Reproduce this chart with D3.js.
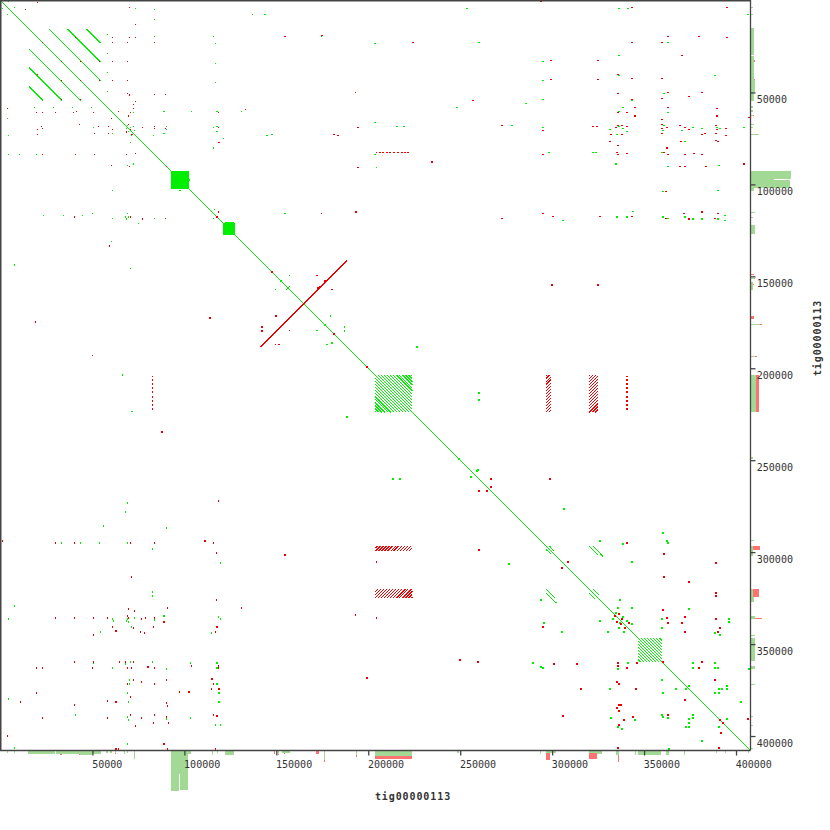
<!DOCTYPE html>
<html><head><meta charset="utf-8">
<script src="https://cdn.jsdelivr.net/npm/d3@7"></script>
<style>body{margin:0;background:#fff}svg{display:block}</style>
</head><body>
<svg id="c" width="830" height="830"></svg>
<script>
// ---------------- DATA (positions in kb along tig00000113) ----------------
const KB = 1000;
const contigName = "tig00000113";
const contigLengthKb = 407.6;
const tickValues = [50000, 100000, 150000, 200000, 250000, 300000, 350000, 400000];
const tickLabels = ["50000", "100000", "150000", "200000", "250000", "300000", "350000", "400000"];

// forward (same strand) alignments: [x1, y1, x2, y2] kb
const fwdLines = [
  [0, 0, 407.6, 407.6],
  [26.3, 15.4, 54.4, 43.5], [36.3, 15.4, 54.4, 33.5], [46.7, 15.4, 54.4, 23.1],
  [15.4, 26.3, 43.5, 54.4], [15.4, 36.3, 33.5, 54.4], [15.4, 46.7, 23.1, 54.4],
  [320.1, 296.7, 325.0, 301.6], [322.3, 296.7, 327.7, 302.2],
  [296.7, 320.1, 301.6, 325.0], [296.7, 322.3, 302.2, 327.7],
  [296.7, 298.4, 299.5, 301.1], [298.4, 296.7, 301.1, 299.5],
  [320.1, 322.3, 323.4, 325.6], [322.3, 320.1, 325.6, 323.4]
];
// reverse-strand alignments: [x1, y1, x2, y2] kb
const revLines = [
  [141.3, 188.6, 188.6, 141.3]
];
// dense collapsed-repeat blocks: [x0, y0, x1, y1] kb
const fwdBlocks = [
  [92.9, 92.9, 102.7, 102.7],
  [121.2, 121.2, 127.7, 127.7],
  [122.0, 120.6, 127.2, 121.3]
];
// tandem-repeat boxes: [x0, x1, y0, y1] kb, with copy offsets (kb)
const fwdHatchBoxes = [[203.8, 223.9, 203.8, 223.9], [346.7, 359.8, 346.7, 359.8]];
const revHatchBoxes = [
  [296.6, 299.5, 203.8, 223.9], [320.1, 324.8, 203.8, 223.9],
  [203.8, 223.9, 296.6, 299.5], [203.8, 223.9, 320.1, 324.8]
];
const repeatOffsets = [-19.8, -18.2, -16.5, -14.9, -13.2, -11.6, -9.9, -8.3, -6.6, -5.0, -3.3, -1.7,
  0, 1.7, 3.3, 5.0, 6.6, 8.3, 9.9, 11.6, 13.2, 14.9, 16.5, 18.2, 19.8];

// short forward hits: [x, y] kb
const fwdDots = [
  [4.3,0.5],[1.1,4.3],[7.6,3.8],[3.8,7.6],[73.4,4.3],[83.7,4.9],[83.7,10.3],[58.2,18.5],[83.7,19.6],[115.8,19.6],
  [116.9,23.4],[58.2,28.8],[58.2,39.1],[58.2,49.5],[116.9,34.2],[116.9,44.6],[18.5,58.2],[28.8,58.2],[39.1,58.2],[49.5,58.2],
  [3.8,64.1],[64.1,64.1],[72.3,60.9],[89.1,60.3],[103.8,60.3],[117.9,60.3],[131,60.3],[50.5,69],[60.9,72.3],[4.3,73.4],
  [83.2,73.4],[90.2,68.5],[90.2,70.1],[89.1,72.3],[115.8,69],[117.9,68.5],[117.9,71.2],[121.2,75],[115.8,80.4],[70.7,77.2],
  [4.3,83.7],[10.3,83.7],[19.6,83.7],[69,89.7],[72.3,89.1],[60.9,103.3],[97.8,103.3],[102.7,97.8],[23.4,116.9],[34.2,116.9],
  [44.6,116.9],[50,115.8],[60.9,118.5],[69,115.8],[67.9,117.9],[68.5,119],[69.6,117.9],[75,121.2],[83.7,118.5],[116.3,113.6],
  [115.8,118.5],[60.3,131],[69,67.9],[70.7,69],[72.3,68.5],[69.6,71.2],[71.2,73.4],[72.8,70.7],[68.5,69.6],
  [157.1,149.5],[149.5,157.1],[156.5,156.5],[155.5,157.1],[157.1,155.5],[179.4,171.7],[187,177.7],[187,179.9],[172.3,179.4],
  [177.7,187],[180.4,186.4],[226.6,188.6],[188.6,226.6],[152.7,152.7],[176.6,176.6],
  [260.3,213.6],[260.3,217.4],[213.6,260.3],[217.4,260.3],[259.2,256],[256,259.2],[249.5,249.5],[326.1,294],[338.6,295.7],
  [343.5,305.4],[294,326.1],[276.6,306.5],[306.5,276.6],[337,326.1],[343.5,330.4],
  [360.3,289.7],[362.5,294],[363.1,295.1],[289.7,360.3],[294,362.5],[295.1,363.1],[335.9,330.4],[374.5,331],[359.8,336.4],
  [359.8,341.3],[396.2,336.4],[396.2,338],[388.6,344],[391.3,345.1],[330.4,343.5],[326.1,337.5],[305.4,343.5],[295.7,338.6],
  [341.3,360.3],[335.9,363.6],[376.6,360.3],[376.6,363.1],[388.6,360.3],[390.2,363.1],[388.6,363.1],[407.1,363.6],[331.5,374.5],
  [359.8,369.6],[360.3,376.6],[367.4,374.5],[372.8,374.5],[374.5,372.8],[390.8,374.5],[392.4,374.5],[388.6,376.6],[390.8,376.6],
  [395.1,372.8],[395.1,374.5],[402.7,381.5],[332.1,390.2],[345.1,391.3],[335.9,395.1],[338,396.2],[359.8,388.6],[360.3,389.7],
  [363.1,390.2],[374.5,390.8],[374.5,393],[376.6,388.6],[376.6,390.2],[372.8,395.1],[374.5,395.1],[395.1,390.8],[390.8,395.1],
  [381.5,402.7],[363.6,407.1],[333.2,336.4],[334.8,333.2],[337,338.6],[338.6,335.3],[340.8,337.5],[336.4,341.3],[343.5,339.1],
  [339.1,343.5],
  [336.4,4.3],[341.3,4.3],[406.5,7.6],[363.1,22.8],[336.4,29.9],[295.1,33.2],[336.4,40.8],[388.6,40.8],[295.1,43.5],[360.9,50.5],
  [295.1,53.8],[285.9,56],[343.5,54.4],[336.4,60.3],[338.6,58.2],[363.1,60.9],[278.3,67.9],[295.1,69],[331.5,70.1],[336.4,68.5],
  [338.6,69.6],[340.8,71.2],[335.3,72.8],[360.3,70.7],[360.9,67.9],[370.7,70.7],[376.6,69],[381.5,69.6],[389.7,69],[391.3,69.6],
  [404.4,69],[372.3,76.6],[298.4,82.6],[322.3,82.6],[323.9,82.6],[359.8,82.6],[334.8,89.1],[363.1,90.2],[390.8,89.7],[360.3,103.8],
  [390.2,103.3],[344,114.7],[306,119.6],[335.3,117.9],[340.8,117.9],[360.3,117.9],[363.1,118.5],[372.3,117.9],[376.6,119],
  [381.5,119],[390.2,119],[394,116.9],[394,119.6],
  [137,7.6],[253.8,4.3],[174.5,19.6],[203.8,23.4],[260.3,22.8],[248.4,58.2],[215.8,68.5],[219.6,68.5],[145.1,73.4],[147.8,72.8],
  [203.8,83.7],[204.4,90.8],[154.9,115.8],
  [69,273.4],[67.9,278.3],[56,285.9],[90.2,287],[33.2,295.1],[43.5,295.1],[53.8,295.1],[69,295.1],[82.6,298.4],[119.6,306],
  [82.6,321.8],[82.6,323.9],[7.6,329.4],[4.3,336.4],[60.9,336.4],[61.4,337.5],[69,336.4],[69.6,338],[72.8,335.9],[68.5,337.5],
  [83.7,337],[89.1,334.8],[118.5,335.3],[119.6,336.4],[54.4,343.5],[71.2,340.8],[114.7,344],[50.5,360.3],[70.7,359.8],[67.9,360.9],
  [60.9,363.1],[82.6,359.8],[90.2,363.6],[103.3,360.3],[117.9,360.3],[117.9,363.1],[70.1,369.6],[70.1,371.8],[69,376.6],[69.6,381.5],
  [117.9,371.8],[119,376.6],[119,381.5],[4.3,379.9],[40.8,388.6],[69,389.7],[69.6,391.3],[90.2,390.8],[103.3,390.2],[116.9,394],
  [119.6,394],[7.6,406.5],[69,404.4],
  [7.6,144],[70.7,145.7],[66.3,203.8],[71.5,223.5],[259.8,255.4],[144,7.6],[203.8,66.3]
];
// short reverse hits: [x, y] kb
const revDots = [
  [70.1,3.8],[13.6,4.9],[20.1,1.1],[73.4,13],[70.1,20.1],[73.4,20.1],[69,22.8],[60.9,20.1],[60.9,22.8],[83.7,22.8],
  [22.8,22.8],[60.9,33.2],[69,33.2],[33.2,33.2],[43.5,33.2],[53.8,33.2],[60.9,43.5],[69,43.5],[33.2,43.5],[43.5,43.5],
  [53.8,43.5],[69,50.5],[70.1,51.3],[83.7,51.1],[89.7,51.1],[73.4,54.9],[72.3,56.5],[72.3,58.7],[20.1,40.2],[40.8,20.1],
  [33.2,53.8],[43.5,53.8],[41.3,60.3],[3.8,58.7],[19.6,60.9],[22.8,60.9],[29.9,60.9],[39.7,60.9],[50.5,60.9],[64.1,60.3],
  [70.7,60.9],[69.6,63],[60.3,64.1],[22.3,68.5],[22.8,69.6],[20.1,70.1],[20.1,72.8],[42.9,67.4],[53.3,68.5],[58.7,68.5],
  [60.9,70.1],[58.7,72.3],[51.1,72.3],[77.2,69],[83.7,68.5],[83.7,69.6],[89.7,69.6],[118.5,60.9],[133.2,59.2],[119,77.2],
  [118.5,69],[22.8,83.7],[40.8,83.7],[51.1,83.7],[68.5,83.7],[73.4,83.2],[60.3,89.7],[70.1,90.2],[90.2,90.2],[40.2,117.9],
  [77.2,119],[89.7,118.5],[70.7,117.9],[118.5,115.2],[117.9,117.9],[59.2,133.7],[69.6,67.4],[70.7,70.1],[71.7,72.8],[68.5,71.7],
  [147.8,147.8],[172.3,149.5],[172.8,156.5],[173.4,155.5],[180.4,157.1],[176.6,152.7],[150,171.7],[153.3,176.6],[142.4,177.7],
  [142.4,179.9],[157.1,179.4],[149.5,187],[151.6,187],[181.5,181.5],[199.5,199.5],
  [298.9,260.3],[266.9,260.3],[260.3,266.9],[264.7,266.9],[266.9,264.7],[260.3,298.9],[204.4,305.4],[204.4,335.9],[308.7,305.4],
  [305.4,308.7],[340.8,295.1],[295.1,340.8],
  [360.9,301.1],[389.1,306],[360.9,313.6],[374.5,316.3],[389.1,322.3],[389.1,323.9],[360.3,331.5],[362.5,335.9],[372.3,335.3],
  [370.7,338.6],[363.1,338.6],[372.3,343.5],[389.1,336.4],[391.3,341.3],[390.2,343.5],[301.1,360.9],[313.6,360.9],[335.9,360.3],
  [335.9,362],[340.8,363.1],[346.2,360.3],[360.3,359.8],[381.5,359.8],[379.9,363.1],[335.3,370.7],[336.4,371.8],[315.8,374.5],
  [345.7,374.5],[372.3,380.5],[388.6,369.6],[336.4,383.2],[337.5,383.2],[335.3,384.8],[336.4,386.4],[306,389.1],[339.1,391.3],
  [344,389.7],[336.4,394],[363.1,388.6],[391.3,391.3],[393,393],[406.5,390.8],[391.8,398.4],[390.8,406.5],[335.9,406.5],
  [334.3,334.8],[336.4,333.7],[338,336.4],[337.5,339.1],[341.9,338.6],[335.3,338],[339.6,341.3],
  [294,0.5],[343.5,3.8],[395.1,3.8],[363.1,19.6],[379.9,19.6],[395.1,20.1],[343.5,22.8],[359.8,22.8],[370.7,29.9],[299.5,32.6],
  [325,32.6],[335.9,40.2],[343.5,42.4],[299.5,42.9],[325,42.9],[359.8,42.4],[335.9,50.5],[363.1,50],[381.5,50],[374.5,52.2],
  [359.8,53.3],[343.5,53.8],[345.1,58.2],[363.1,58.2],[389.7,58.7],[335.9,60.9],[340.8,60.9],[345.1,63],[389.7,63],[359.8,64.7],
  [407.1,63.6],[272.8,67.9],[322.3,68.5],[324.5,68.5],[335.9,67.9],[338,67.9],[340.8,68.5],[334.8,69],[359.8,67.4],[359.8,69.6],
  [362.5,69],[369.6,67.9],[372.3,69],[374.5,70.1],[389.1,67.9],[389.7,70.1],[394.6,69.6],[295.1,70.7],[332.1,72.8],[338,72.8],
  [359.8,72.3],[381.5,72.8],[383.2,72.3],[389.1,72.3],[394.6,73.4],[370.1,76.6],[389.1,76.1],[390.2,76.6],[331.5,76.6],[335.9,78.8],
  [295.1,83.7],[335.3,82.6],[335.9,83.7],[340.8,83.2],[360.9,82.6],[363.1,83.7],[362.5,80.4],[372.3,83.7],[377.2,83.2],[381.5,83.7],
  [369.6,90.2],[372.3,90.2],[383.7,90.2],[404.4,89.1],[362,103.8],[295.1,115.8],[300.5,117.4],[326.1,117.4],[272.8,118.5],
  [343.5,117.4],[362,118.5],[371.8,115.8],[374.5,119],[381.5,115.2],[388.6,118.5],[390.2,115.8],
  [154.9,19.6],[224.5,22.8],[257.1,54.4],[194.6,69],[181.5,72.8],[183.7,73.4],[194.6,90.8],[174.5,115.8],[193.5,115.2],
  [204.4,82.6],[206.5,82.6],[208.2,82.6],[210.3,82.6],[212,82.6],[214.1,82.6],[216.3,82.6],[218.5,82.6],[220.1,82.6],[221.7,82.6],
  [340.8,204.4],[340.8,206.5],[340.8,208.7],[340.8,210.9],[340.8,213],[340.8,215.8],[340.8,217.9],[340.8,220.1],[340.8,222.3],
  [82.6,204.4],[82.6,206.5],[82.6,208.7],[82.6,210.9],[82.6,213],[82.6,215.8],[82.6,217.9],[82.6,220.1],[82.6,222.3],
  [118.5,272.3],[1.1,294],[29.9,295.1],[40.2,295.1],[70.7,295.1],[83.7,295.1],[111.4,294],[115.8,295.1],[117.4,300.5],[71.2,313.6],
  [117.4,326.1],[131,330.4],[69.6,331],[72.8,332.1],[90.8,330.4],[29.9,335.9],[40.2,335.9],[50.5,335.9],[58.2,335.9],[69,334.8],
  [69.6,335.9],[76.6,336.4],[78.8,335.9],[83.7,335.9],[89.1,338],[60.9,340.8],[63,343],[72.3,341.3],[76.1,343.5],[78.3,344],
  [83.2,340.8],[50.5,345.1],[117.9,340.8],[116.9,343.5],[40.2,359.8],[50.5,359.8],[50,363.1],[64.7,359.8],[67.9,359.8],[72.3,359.8],
  [69,363.1],[71.2,363.1],[80.4,362.5],[83.7,363.1],[19.6,363.1],[22.8,363.1],[103.8,362],[118.5,362],[118.5,363.1],[90.2,369.6],
  [72.3,369.6],[76.6,370.7],[69,371.8],[83.7,371.8],[115.2,369],[115.8,371.8],[114.7,374.5],[119,374.5],[97.3,376.1],[102.7,376.1],
  [19.6,376.6],[70.7,378.8],[58.2,381],[63,381.5],[10.9,381.5],[40.2,383.2],[90.2,382.1],[90.8,383.7],[22.8,390.2],[58.2,390.2],
  [70.7,388.6],[76.6,390.2],[83.7,388.6],[90.2,389.7],[91.3,393],[83.2,393],[73.4,394.6],[115.8,388.6],[117.9,389.1],[3.8,400],
  [63,407.1],[64.1,407.1],[89.1,404.4],[90.8,407.1],[116.9,407.1],
  [50,193],[19,175],[88,234.8],[114.1,172.8],[154.9,301.6],[193,334.3],[199.5,368.5],[250,358.7],[259.8,359.8],[300,154.9],
  [325,154.9],[175,19],[193,50],[234.8,88]
];

// read coverage along the contig: [start kb, end kb, forward depth, reverse depth]
const coverage = [
  [3.8,4.3,1,0],[7.1,7.6,1,0],[15.2,19.6,1.65,0],[19.6,22.8,1.5,0],[22.8,29.9,1.65,0],[30.4,32.6,1.5,0],[32.6,33.2,1.5,0.65],
  [33.2,42.9,1.65,0],[42.9,43.5,1.65,0.5],[43.5,50,1.85,0],[50,54.4,1.65,0],[57.6,58.2,1,0],[59.8,60.9,1,0],[62.5,63,1.15,0.3],
  [67.4,67.9,1.5,0],[69,69.6,1,0],[72.8,73.4,4,0],[92.9,97.3,20.15,0],[97.3,97.8,11.35,0],[97.8,102.2,19.35,0],
  [102.2,103.8,1.25,0],[115.2,115.8,2.15,0],[117.9,118.5,1,0],[122.3,127.2,2,0],[148.9,149.5,0,1.5],[151.1,151.6,1.5,0.5],
  [153.3,157.6,1,0],[154.4,154.9,1,0.6],[171.7,173.4,0,1.5],[176.1,176.6,4.65,0.85],[193.5,194,2.15,0.85],
  [203.8,223.9,2.65,1.5],[248.4,249.5,1,0],[293.5,294,1.5,0],[296.7,298.9,1,3.35],[298.9,302.2,1,0],[320.1,324.5,1,3.15],
  [324.5,327.2,1.25,0],[334.8,335.9,2.15,0],[335.9,336.4,2.15,3.35],[345.1,345.7,2.15,0],[346.7,359.3,2.15,0],
  [362,363.6,2.15,0],[371.8,372.3,2.15,0],[389.1,389.7,1,0],[394,394.6,1,0],[406.5,407.1,1,0]
];

// ---------------- DRAWING ----------------
const GREEN = "#00ee00", RED = "#ee0000", HGREEN = "#a2d995", HRED = "#ff7272", AX = "#444";
const svg = d3.select("#c");
const x = d3.scaleLinear().domain([0, contigLengthKb * KB]).range([0.5, 750]);
const y = d3.scaleLinear().domain([0, contigLengthKb * KB]).range([0.5, 750]);
const depth = d3.scaleLinear().domain([0, 20]).range([0, 40]);
const X = v => x(v * KB), Y = v => y(v * KB);

// coverage histograms (bottom and right)
const hb = svg.append("g").attr("shape-rendering", "crispEdges");
coverage.forEach(([s, e, f, r]) => {
  const px = X(s), w = Math.max(1, X(e) - X(s));
  const py = Y(s), hgt = Math.max(1, Y(e) - Y(s));
  hb.append("rect").attr("x", px).attr("y", 751).attr("width", w).attr("height", depth(f)).attr("fill", HGREEN);
  if (r > 0) hb.append("rect").attr("x", px).attr("y", 751 + depth(f)).attr("width", w).attr("height", depth(r)).attr("fill", HRED);
  hb.append("rect").attr("x", 751).attr("y", py).attr("width", depth(f)).attr("height", hgt).attr("fill", HGREEN);
  if (r > 0) hb.append("rect").attr("x", 751 + depth(f)).attr("y", py).attr("width", depth(r)).attr("height", hgt).attr("fill", HRED);
});

const g = svg.append("g").attr("shape-rendering", "crispEdges");
function seg(x1, y1, x2, y2, col, w) {
  g.append("line").attr("x1", X(x1)).attr("y1", Y(y1)).attr("x2", X(x2)).attr("y2", Y(y2))
    .attr("stroke", col).attr("stroke-width", w || 1);
}
fwdLines.forEach((d, i) => seg(d[0], d[1], d[2], d[3], GREEN, i === 0 ? 1 : 1.3));
revLines.forEach(d => seg(d[0], d[1], d[2], d[3], RED, 1));
fwdBlocks.forEach(([a, b, c, d]) => g.append("rect").attr("x", X(a)).attr("y", Y(b))
  .attr("width", X(c) - X(a)).attr("height", Y(d) - Y(b)).attr("fill", GREEN));

fwdHatchBoxes.forEach(([x0, x1, y0, y1]) => {
  repeatOffsets.forEach(o => {
    const a = Math.max(x0, y0 - o), b = Math.min(x1, y1 - o);
    if (b > a) seg(a, a + o, b, b + o, GREEN, 1);
  });
});
revHatchBoxes.forEach(([x0, x1, y0, y1]) => {
  repeatOffsets.forEach(o => {
    const c = x0 + y1 + o;
    const a = Math.max(x0, c - y1), b = Math.min(x1, c - y0);
    if (b > a) seg(a, c - a, b, c - b, RED, 1);
  });
});

const DOT = 1.7;
fwdDots.forEach(([a, b]) => g.append("rect").attr("x", X(a) - DOT / 2).attr("y", Y(b) - DOT / 2)
  .attr("width", DOT).attr("height", DOT).attr("fill", GREEN));
revDots.forEach(([a, b]) => g.append("rect").attr("x", X(a) - DOT / 2).attr("y", Y(b) - DOT / 2)
  .attr("width", DOT).attr("height", DOT).attr("fill", RED));

// frame
svg.append("line").attr("x1", 0).attr("y1", 0.75).attr("x2", 750.5).attr("y2", 0.75).attr("stroke", AX).attr("stroke-width", 1.5);
svg.append("line").attr("x1", 0.75).attr("y1", 0).attr("x2", 0.75).attr("y2", 750.5).attr("stroke", AX).attr("stroke-width", 1.5);

const font = "'DejaVu Sans Mono', 'Liberation Mono', monospace";
const bx = svg.append("g").attr("transform", "translate(0,750.5)")
  .call(d3.axisBottom(x).tickValues(tickValues).tickFormat((d, i) => tickLabels[i]).tickSize(5).tickSizeOuter(0));
bx.select(".domain").attr("stroke", AX).attr("stroke-width", 1.3).attr("d", "M0,0H750.5");
bx.selectAll(".tick line").attr("stroke", AX).attr("stroke-width", 1.3);
bx.selectAll(".tick text").attr("text-anchor", "start").attr("dy", null).attr("x", -0.8).attr("y", 17.3)
  .attr("font-family", font).attr("font-size", "10px").attr("fill", "#333");

const ry = svg.append("g").attr("transform", "translate(750.5,0)")
  .call(d3.axisRight(y).tickValues(tickValues).tickFormat((d, i) => tickLabels[i]).tickSize(5).tickSizeOuter(0));
ry.select(".domain").attr("stroke", AX).attr("stroke-width", 1.3).attr("d", "M0,0V750.5");
ry.selectAll(".tick line").attr("stroke", AX).attr("stroke-width", 1.3);
ry.selectAll(".tick text").attr("text-anchor", "start").attr("dy", null).attr("x", 6.3).attr("y", 10.4)
  .attr("font-family", font).attr("font-size", "10px").attr("fill", "#333");

svg.append("text").attr("x", 413).attr("y", 800).attr("text-anchor", "middle")
  .attr("font-family", font).attr("font-size", "10px").attr("font-weight", "bold").attr("letter-spacing", "0.9px")
  .attr("fill", "#333").text(contigName);
svg.append("text").attr("transform", "translate(820.5,338) rotate(-90)").attr("text-anchor", "middle")
  .attr("font-family", font).attr("font-size", "10px").attr("font-weight", "bold").attr("letter-spacing", "0.9px")
  .attr("fill", "#333").text(contigName);
</script>
</body></html>
